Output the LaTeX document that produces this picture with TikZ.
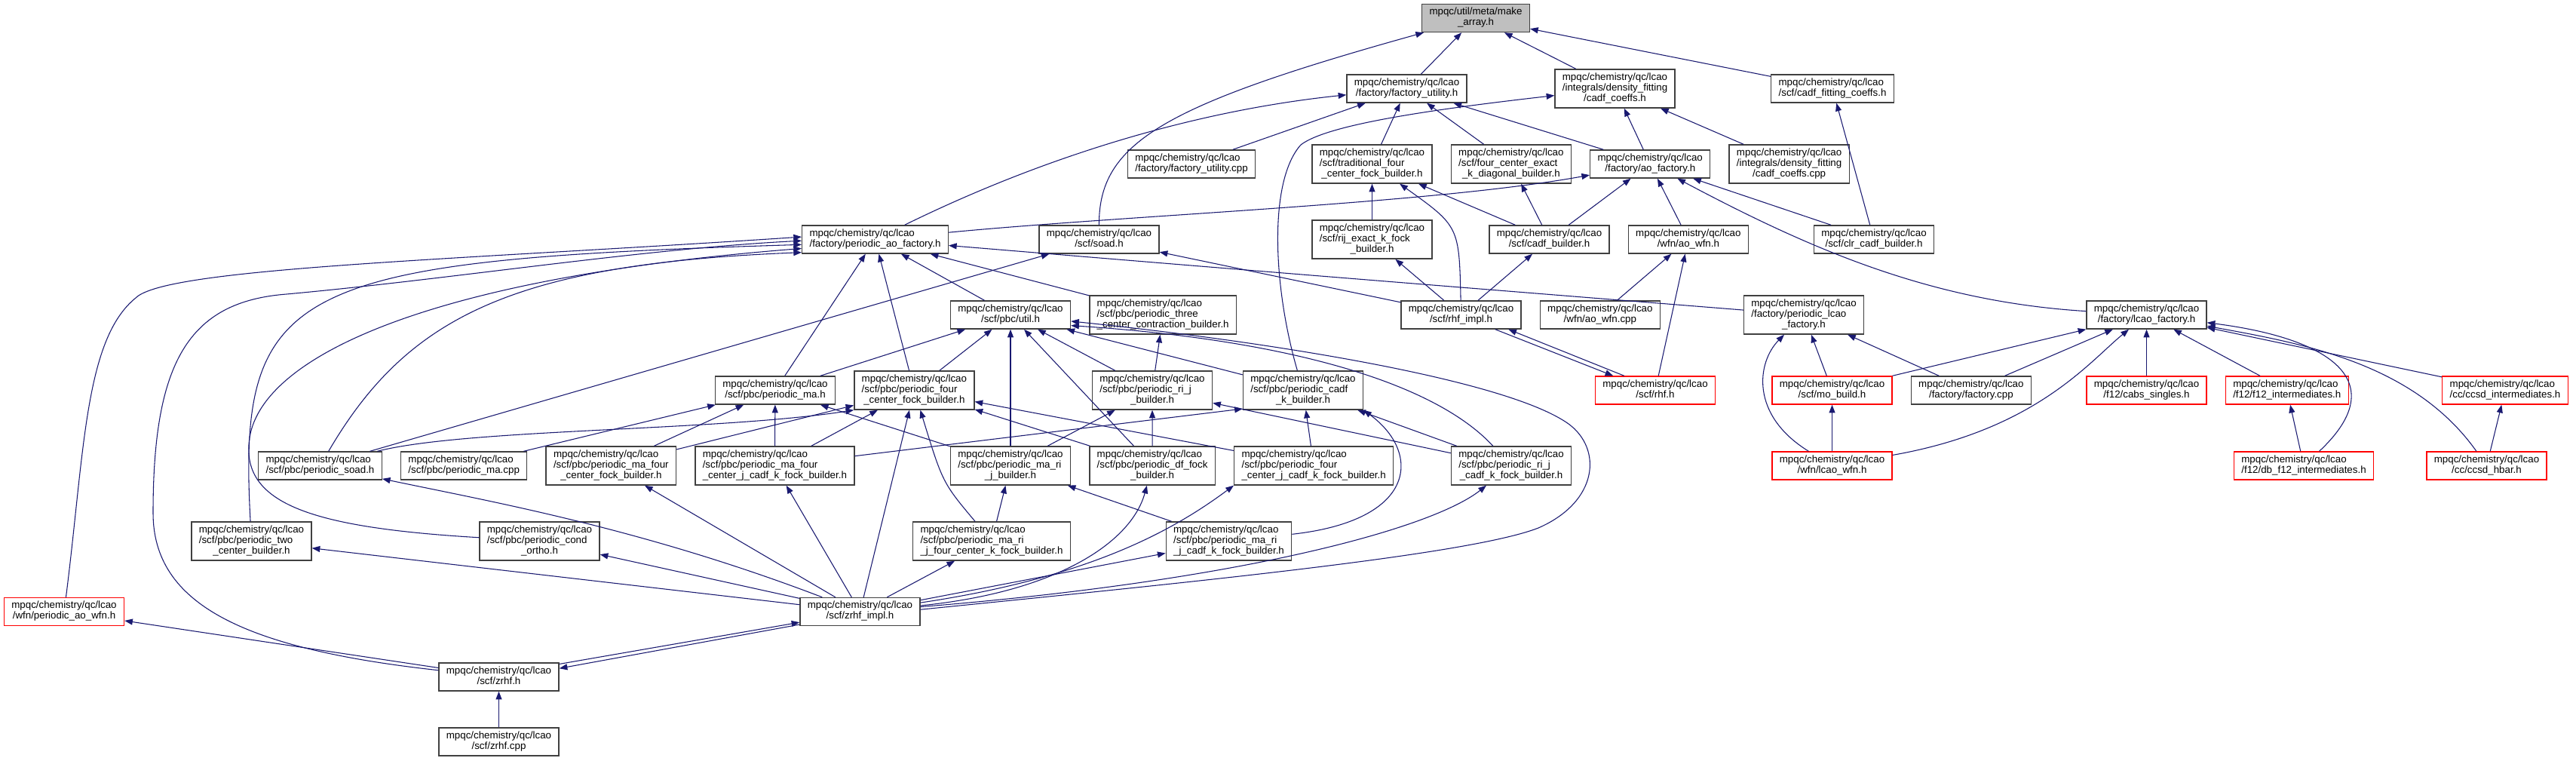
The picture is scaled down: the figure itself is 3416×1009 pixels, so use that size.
\documentclass[tikz,border=0pt]{standalone}
\usepackage{fontspec}
\usepackage{tikz}
\usetikzlibrary{positioning,arrows.meta}
\usepackage{xcolor}
\newfontfamily\graphfont{Liberation Sans}
\definecolor{EdgeBlue}{RGB}{25,25,112}
\definecolor{RootGrey}{RGB}{191,191,191}
\definecolor{BoxLine}{RGB}{64,64,64}
\newcommand{\fileii}[2]{\begin{tabular}{@{}l@{}}#1\\\multicolumn{1}{@{}c@{}}{#2}\end{tabular}}
\newcommand{\fileiii}[3]{\begin{tabular}{@{}l@{}}#1\\#2\\\multicolumn{1}{@{}c@{}}{#3}\end{tabular}}

\begin{document}
\begin{tikzpicture}[x=0.75pt, y=-0.75pt, node distance=18pt,
    file/.style={rectangle, draw=BoxLine, line width=1pt, fill=white,
        inner xsep=7.4pt, inner ysep=3.4pt,
        font=\graphfont\fontsize{10}{10.5}\selectfont, text=black},
    root/.style={file, fill=RootGrey},
    trunc/.style={file, draw=red},
    arr/.style={-{Triangle[length=8pt,width=6pt]}, draw=EdgeBlue, line width=0.8pt},
]
\useasboundingbox (0,0) rectangle (3416,1009);

\node[root] (mk) at (1957,24) {\fileii{mpqc/util/meta/make}{\_array.h}};
\node[file] (fu) at (1865.5,117.5) {\fileii{mpqc/chemistry/qc/lcao}{/factory/factory\_utility.h}};
\node[file] (cdc) at (2141.5,117.5) {\fileiii{mpqc/chemistry/qc/lcao}{/integrals/density\_fitting}{/cadf\_coeffs.h}};
\node[file] (cfc) at (2430,117.5) {\fileii{mpqc/chemistry/qc/lcao}{/scf/cadf\_fitting\_coeffs.h}};
\node[file] (fucpp) at (1580,217.5) {\fileii{mpqc/chemistry/qc/lcao}{/factory/factory\_utility.cpp}};
\node[file] (tf) at (1819.5,217.5) {\fileiii{mpqc/chemistry/qc/lcao}{/scf/traditional\_four}{\_center\_fock\_builder.h}};
\node[file, right=of tf] (fce) {\fileiii{mpqc/chemistry/qc/lcao}{/scf/four\_center\_exact}{\_k\_diagonal\_builder.h}};
\node[file, right=of fce] (aof) {\fileii{mpqc/chemistry/qc/lcao}{/factory/ao\_factory.h}};
\node[file, right=of aof] (cdcpp) {\fileiii{mpqc/chemistry/qc/lcao}{/integrals/density\_fitting}{/cadf\_coeffs.cpp}};
\node[file] (pao) at (1160.5,317.5) {\fileii{mpqc/chemistry/qc/lcao}{/factory/periodic\_ao\_factory.h}};
\node[file] (soad) at (1457.5,317.5) {\fileii{mpqc/chemistry/qc/lcao}{/scf/soad.h}};
\node[file] (rij) at (1819.5,317.5) {\fileiii{mpqc/chemistry/qc/lcao}{/scf/rij\_exact\_k\_fock}{\_builder.h}};
\node[file] (cadfb) at (2054.5,317.5) {\fileii{mpqc/chemistry/qc/lcao}{/scf/cadf\_builder.h}};
\node[file, right=of cadfb] (aowfn) {\fileii{mpqc/chemistry/qc/lcao}{/wfn/ao\_wfn.h}};
\node[file] (clr) at (2485,317.5) {\fileii{mpqc/chemistry/qc/lcao}{/scf/clr\_cadf\_builder.h}};
\node[file] (util) at (1340,417.5) {\fileii{mpqc/chemistry/qc/lcao}{/scf/pbc/util.h}};
\node[file, right=of util] (p3) {\fileiii{mpqc/chemistry/qc/lcao}{/scf/pbc/periodic\_three}{\_center\_contraction\_builder.h}};
\node[file] (rimpl) at (1937.5,417.5) {\fileii{mpqc/chemistry/qc/lcao}{/scf/rhf\_impl.h}};
\node[file, right=of rimpl] (aowfncpp) {\fileii{mpqc/chemistry/qc/lcao}{/wfn/ao\_wfn.cpp}};
\node[file] (plf) at (2392,417.5) {\fileiii{mpqc/chemistry/qc/lcao}{/factory/periodic\_lcao}{\_factory.h}};
\node[file] (lcf) at (2846.5,417.5) {\fileii{mpqc/chemistry/qc/lcao}{/factory/lcao\_factory.h}};
\node[file] (pma) at (1028,517.5) {\fileii{mpqc/chemistry/qc/lcao}{/scf/pbc/periodic\_ma.h}};
\node[file, right=of pma] (pfc) {\fileiii{mpqc/chemistry/qc/lcao}{/scf/pbc/periodic\_four}{\_center\_fock\_builder.h}};
\node[file] (prjb) at (1528,517.5) {\fileiii{mpqc/chemistry/qc/lcao}{/scf/pbc/periodic\_ri\_j}{\_builder.h}};
\node[file] (cadfk) at (1728,517.5) {\fileiii{mpqc/chemistry/qc/lcao}{/scf/pbc/periodic\_cadf}{\_k\_builder.h}};
\node[trunc] (rhf) at (2195,517.5) {\fileii{mpqc/chemistry/qc/lcao}{/scf/rhf.h}};
\node[trunc] (mob) at (2429.5,517.5) {\fileii{mpqc/chemistry/qc/lcao}{/scf/mo\_build.h}};
\node[file, right=of mob] (fcpp) {\fileii{mpqc/chemistry/qc/lcao}{/factory/factory.cpp}};
\node[trunc] (cabs) at (2846.5,517.5) {\fileii{mpqc/chemistry/qc/lcao}{/f12/cabs\_singles.h}};
\node[trunc, right=of cabs] (f12) {\fileii{mpqc/chemistry/qc/lcao}{/f12/f12\_intermediates.h}};
\node[trunc] (ccsdi) at (3322,517.5) {\fileii{mpqc/chemistry/qc/lcao}{/cc/ccsd\_intermediates.h}};
\node[file] (psoad) at (424.5,617.5) {\fileii{mpqc/chemistry/qc/lcao}{/scf/pbc/periodic\_soad.h}};
\node[file, right=of psoad] (pmacpp) {\fileii{mpqc/chemistry/qc/lcao}{/scf/pbc/periodic\_ma.cpp}};
\node[file, right=of pmacpp] (pma4) {\fileiii{mpqc/chemistry/qc/lcao}{/scf/pbc/periodic\_ma\_four}{\_center\_fock\_builder.h}};
\node[file, right=of pma4] (pma4jk) {\fileiii{mpqc/chemistry/qc/lcao}{/scf/pbc/periodic\_ma\_four}{\_center\_j\_cadf\_k\_fock\_builder.h}};
\node[file] (mrjb) at (1340,617.5) {\fileiii{mpqc/chemistry/qc/lcao}{/scf/pbc/periodic\_ma\_ri}{\_j\_builder.h}};
\node[file, right=of mrjb] (dff) {\fileiii{mpqc/chemistry/qc/lcao}{/scf/pbc/periodic\_df\_fock}{\_builder.h}};
\node[file, right=of dff] (fcjk) {\fileiii{mpqc/chemistry/qc/lcao}{/scf/pbc/periodic\_four}{\_center\_j\_cadf\_k\_fock\_builder.h}};
\node[file] (rjck) at (2004,617.5) {\fileiii{mpqc/chemistry/qc/lcao}{/scf/pbc/periodic\_ri\_j}{\_cadf\_k\_fock\_builder.h}};
\node[trunc] (lwfn) at (2429.5,617.5) {\fileii{mpqc/chemistry/qc/lcao}{/wfn/lcao\_wfn.h}};
\node[trunc] (dbf12) at (3055,617.5) {\fileii{mpqc/chemistry/qc/lcao}{/f12/db\_f12\_intermediates.h}};
\node[trunc] (hbar) at (3297.5,617.5) {\fileii{mpqc/chemistry/qc/lcao}{/cc/ccsd\_hbar.h}};
\node[file] (p2c) at (333.5,717.5) {\fileiii{mpqc/chemistry/qc/lcao}{/scf/pbc/periodic\_two}{\_center\_builder.h}};
\node[file] (cond) at (715.5,717.5) {\fileiii{mpqc/chemistry/qc/lcao}{/scf/pbc/periodic\_cond}{\_ortho.h}};
\node[file] (mrj4) at (1315,717.5) {\fileiii{mpqc/chemistry/qc/lcao}{/scf/pbc/periodic\_ma\_ri}{\_j\_four\_center\_k\_fock\_builder.h}};
\node[file] (mrjck) at (1629.5,717.5) {\fileiii{mpqc/chemistry/qc/lcao}{/scf/pbc/periodic\_ma\_ri}{\_j\_cadf\_k\_fock\_builder.h}};
\node[trunc] (paowfn) at (85,811) {\fileii{mpqc/chemistry/qc/lcao}{/wfn/periodic\_ao\_wfn.h}};
\node[file] (zimpl) at (1140.5,811) {\fileii{mpqc/chemistry/qc/lcao}{/scf/zrhf\_impl.h}};
\node[file] (zrhf) at (661.5,897.5) {\fileii{mpqc/chemistry/qc/lcao}{/scf/zrhf.h}};
\node[file] (zrhfcpp) at (661.5,983.5) {\fileii{mpqc/chemistry/qc/lcao}{/scf/zrhf.cpp}};

\draw[arr] (soad) .. controls (1457,190) and (1540,140) .. (mk);
\draw[arr] (fu) -- (mk);
\draw[arr] (cdc) -- (mk);
\draw[arr] (cfc) -- (mk);
\draw[arr] (pao) .. controls (1400,200) and (1600,145) .. (fu);
\draw[arr] (fucpp) -- (fu);
\draw[arr] (tf) -- (fu);
\draw[arr] (fce) -- (fu);
\draw[arr] (aof) -- (fu);
\draw[arr] (aof) -- (cdc);
\draw[arr] (cdcpp) -- (cdc);
\draw[arr] (cadfk) .. controls (1688,380) and (1682,240) .. (1725,192) .. controls (1760,165) and (1900,145) .. (cdc);
\draw[arr] (clr) -- (cfc);
\draw[arr] (pao) .. controls (1500,285) and (1900,270) .. (aof);
\draw[arr] (cadfb) -- (aof);
\draw[arr] (aowfn) -- (aof);
\draw[arr] (clr) -- (aof);
\draw[arr] (lcf) .. controls (2560,400) and (2400,330) .. (aof);
\draw[arr] (cadfb) -- (fce);
\draw[arr] (cadfb) -- (tf);
\draw[arr] (rij) -- (tf);
\draw[arr] (rimpl) .. controls (1935,300) .. (tf);
\draw[arr] (rimpl) -- (rij);
\draw[arr] (rimpl) -- (cadfb);
\draw[arr] (rimpl) -- (soad);
\draw[arr] (rhf.155) -- (rimpl.-17);
\draw[arr] (rimpl.-23) -- (rhf.161);
\draw[arr] (aowfncpp) -- (aowfn);
\draw[arr] (rhf) -- (aowfn);
\draw[arr] (plf) .. controls (1700,362) .. (pao);
\draw[arr] (mob) -- (plf);
\draw[arr] (lwfn) .. controls (2320,550) and (2330,480) .. (plf);
\draw[arr] (fcpp) -- (plf);
\draw[arr] (lwfn) -- (mob);
\draw[arr] (mob) -- (lcf);
\draw[arr] (fcpp) -- (lcf);
\draw[arr] (lwfn) .. controls (2700,570) and (2770,480) .. (lcf);
\draw[arr] (cabs) -- (lcf);
\draw[arr] (f12) -- (lcf);
\draw[arr] (ccsdi) -- (lcf);
\draw[arr] (dbf12) .. controls (3170,510) and (3100,450) .. (lcf);
\draw[arr] (dbf12) -- (f12);
\draw[arr] (hbar) .. controls (3200,480) and (3050,455) .. (lcf);
\draw[arr] (hbar) -- (ccsdi);
\draw[arr] (util) -- (pao);
\draw[arr] (p3) -- (pao);
\draw[arr] (pma) -- (pao);
\draw[arr] (pfc) -- (pao);
\draw[arr] (psoad) -- (soad);
\draw[arr] (psoad) .. controls (540,420) and (680,350) .. (pao.190);
\draw[arr] (paowfn) .. controls (112,600) and (112,450) .. (180,395) .. controls (220,355) and (600,345) .. (pao.178);
\draw[arr] (zrhf) .. controls (320,860) and (203,800) .. (203,680) .. controls (203,480) and (250,400) .. (380,390) .. controls (600,370) and (850,330) .. (pao.181);
\draw[arr] (p2c) .. controls (315,380) and (380,345) .. (pao.184);
\draw[arr] (cond) .. controls (420,700) and (325,670) .. (330,590) .. controls (335,480) and (550,370) .. (pao.187);
\draw[arr] (psoad) .. controls (620,568) and (950,572) .. (pfc.south west);
\draw[arr] (pmacpp) -- (pma);
\draw[arr] (pma4) -- (pma);
\draw[arr] (pma4) -- (pfc);
\draw[arr] (pma4jk) -- (pma);
\draw[arr] (pma4jk) -- (pfc);
\draw[arr] (pma4jk) -- (cadfk.197);
\draw[arr] (pma) -- (util);
\draw[arr] (pfc) -- (util);
\draw[arr] (mrjb) -- (util);
\draw[arr] (mrjb) -- (pma);
\draw[arr] (mrjb) -- (prjb);
\draw[arr] (dff) -- (util);
\draw[arr] (dff) -- (prjb);
\draw[arr] (dff) -- (pfc);
\draw[arr] (prjb) -- (util);
\draw[arr] (prjb) -- (p3);
\draw[arr] (cadfk) -- (util);
\draw[arr] (fcjk) -- (pfc);
\draw[arr] (fcjk) -- (cadfk);
\draw[arr] (rjck) .. controls (1900,505) and (1700,450) .. (util.-10);
\draw[arr] (rjck) -- (prjb);
\draw[arr] (rjck) -- (cadfk);
\draw[arr] (mrj4) -- (mrjb);
\draw[arr] (mrj4) .. controls (1250,640) .. (pfc);
\draw[arr] (mrjck) -- (mrjb);
\draw[arr] (mrjck) .. controls (1880,690) and (1885,600) .. (cadfk.south east);
\draw[arr] (zimpl) .. controls (850,700) and (650,665) .. (psoad);
\draw[arr] (zimpl) -- (p2c);
\draw[arr] (zimpl) -- (cond);
\draw[arr] (zimpl) -- (pma4);
\draw[arr] (zimpl) -- (pma4jk);
\draw[arr] (zimpl) -- (pfc);
\draw[arr] (zimpl) -- (mrj4);
\draw[arr] (zimpl) -- (mrjck);
\draw[arr] (zimpl) .. controls (1400,785) and (1500,720) .. (dff);
\draw[arr] (zimpl) .. controls (1450,765) and (1560,700) .. (fcjk.south west);
\draw[arr] (zimpl) .. controls (1650,770) and (1900,700) .. (rjck);
\draw[arr] (zimpl.2) .. controls (1600,770) and (1950,735) .. (2040,700) .. controls (2120,665) and (2125,595) .. (2080,562) .. controls (2000,505) and (1700,455) .. (util.-6);
\draw[arr] (zrhf.12) -- (zimpl.190);
\draw[arr] (zimpl.192) -- (zrhf.8);
\draw[arr] (zrhf) -- (paowfn);
\draw[arr] (zrhfcpp) -- (zrhf);
\end{tikzpicture}
\end{document}
